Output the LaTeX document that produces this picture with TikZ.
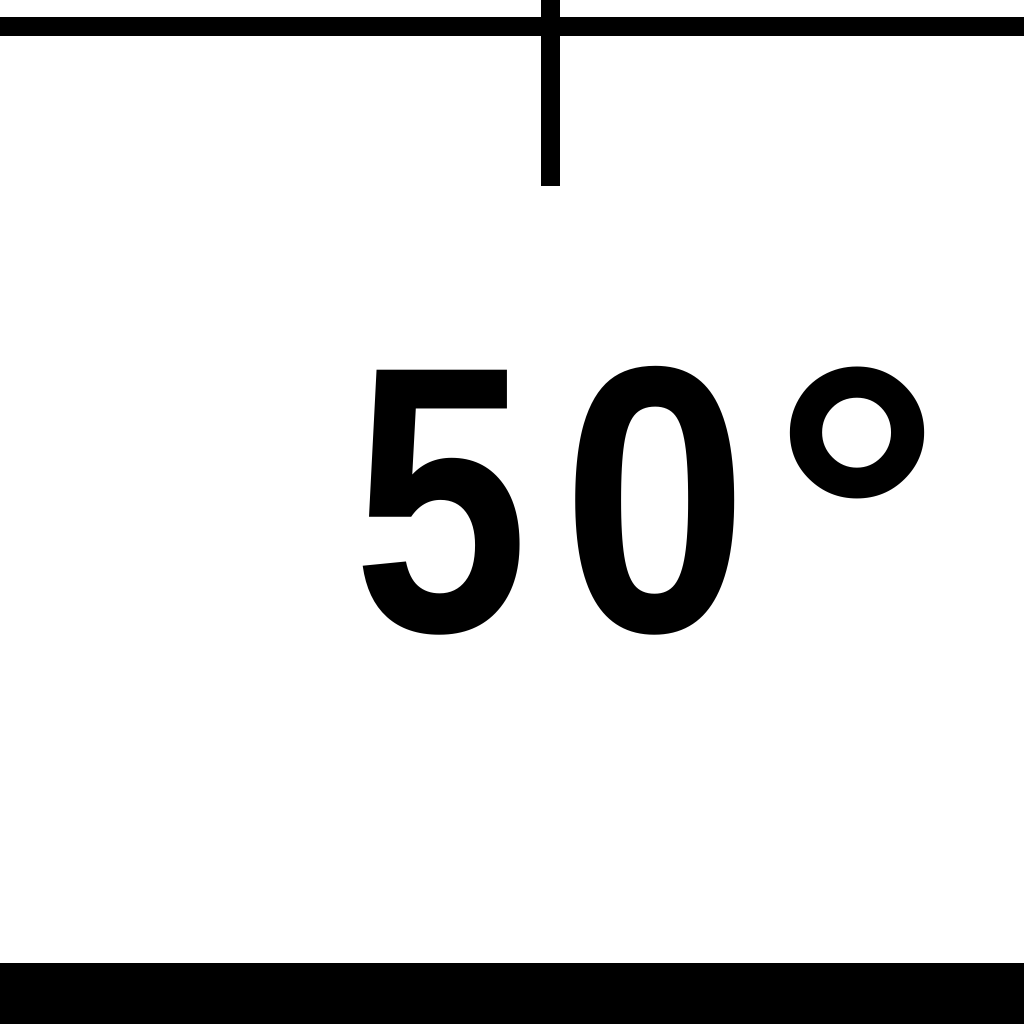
\documentclass[tikz,border=0pt]{standalone}
\usepackage{fontspec}
\setmainfont{Liberation Sans}
\begin{document}
\begin{tikzpicture}[x=0.01cm,y=-0.01cm,
  rule/.style={line width=0.19cm,line cap=butt},
  lbl/.style={inner sep=0pt,anchor=base,font=\bfseries\fontsize{108}{108}\selectfont},
  deg/.style={inner sep=0pt,anchor=base,font=\bfseries\fontsize{122}{122}\selectfont}]
\useasboundingbox (0,0) rectangle (1024,1024);
\coordinate (tl) at (0,26.5);
\coordinate (tr) at (1024,26.5);
\coordinate (vt) at (550.5,0);
\coordinate (vb) at (550.5,186);
\draw[rule] (tl) -- (tr);
\draw[rule] (vt) -- (vb);
\fill (0,963) rectangle (1024,1024);
\node[lbl,xscale=0.83] (d5) at (441,631) {5};
\node[lbl,xscale=0.88] (d0) at (655,631) {0};
\node[deg] (dg) at (857,665) {°};
\end{tikzpicture}
\end{document}
